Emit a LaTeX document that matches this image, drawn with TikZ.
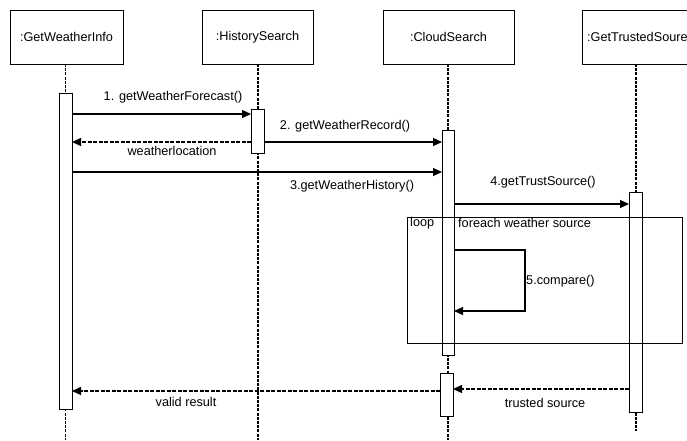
\documentclass[tikz,border=0pt]{standalone}
\usepackage{fontspec}
\setmainfont{Liberation Sans}
\usetikzlibrary{arrows.meta}
\begin{document}
\begin{tikzpicture}[x=1pt,y=-1pt,
  every node/.style={font=\fontsize{12.7}{15}\selectfont},
  head/.style={draw, line width=0.9pt, minimum height=54pt, inner sep=0pt, outer sep=0pt},
  act/.style={draw, fill=white, line width=0.9pt, inner sep=0pt, outer sep=0pt},
  lifeline/.style={line width=1.3pt, dash pattern=on 3pt off 1.2pt},
  msg/.style={line width=1.2pt, -{Triangle[length=9pt,width=8pt]}},
  reply/.style={line width=1.2pt, dash pattern=on 4pt off 1.5pt, -{Triangle[length=9pt,width=8pt]}},
  lbl/.style={inner sep=0pt},
  frame/.style={draw, line width=0.9pt}
]
\useasboundingbox (0,0) rectangle (687,440);
\clip (0,0) rectangle (687,440);

% participants
\node[head, minimum width=113pt] (gwi) at (66.5,37) {:GetWeatherInfo};
\node[head, minimum width=111pt] (hs)  at (257.5,37) {:HistorySearch};
\node[head, minimum width=131pt] (cs)  at (448.5,37) {:CloudSearch};
\node[head, minimum width=108pt] (gts) at (636,37) {};
\node[lbl, anchor=west] (gtsname) at (587,37) {:GetTrustedSoure};

% lifelines
\coordinate (gwiend) at (65.5,440);
\coordinate (hsend) at (258,440);
\coordinate (csend) at (448,440);
\coordinate (gtsend) at (636,431);
\draw[lifeline] (gwi.south -| gwiend) -- (gwiend);
\draw[lifeline] (hs.south -| hsend) -- (hsend);
\draw[lifeline] (cs.south -| csend) -- (csend);
\draw[lifeline] (gts.south -| gtsend) -- (gtsend);

% activation bars
\node[act, minimum width=13pt, minimum height=316pt] (a1) at (65.5,251) {};
\node[act, minimum width=13pt, minimum height=44pt]  (h1) at (257.5,131) {};
\node[act, minimum width=12pt, minimum height=225pt] (c1) at (448,242.5) {};
\node[act, minimum width=13pt, minimum height=43pt]  (c2) at (446.5,394.5) {};
\node[act, minimum width=13pt, minimum height=220pt] (t1) at (635.5,302) {};

% messages
\draw[msg]   (a1.east |- 0,114) -- (h1.west |- 0,114);
\draw[reply] (h1.west |- 0,142) -- (a1.east |- 0,142);
\draw[msg]   (h1.east |- 0,142) -- (c1.west |- 0,142);
\draw[msg]   (a1.east |- 0,172) -- (c1.west |- 0,172);
\draw[msg]   (c1.east |- 0,204) -- (t1.west |- 0,204);
\coordinate (turn) at (525,311);
\draw[msg]   (c1.east |- 0,250) -| (turn) -- (c1.east |- turn);
\draw[reply] (t1.west |- 0,389) -- (c2.east |- 0,389);
\draw[reply] (c2.west |- 0,391) -- (a1.east |- 0,391);

% message labels
\node[lbl] (m1) at (173,97)  {1. getWeatherForecast()};
\node[lbl] (r1) at (172,151) {weatherlocation};
\node[lbl] (m2) at (345,126) {2. getWeatherRecord()};
\node[lbl] (m3) at (352,186) {3.getWeatherHistory()};
\node[lbl] (m4) at (543,182) {4.getTrustSource()};
\node[lbl, anchor=west] (m5) at (526,281) {5.compare()};
\node[lbl] (r2) at (545,403) {trusted source};
\node[lbl] (r3) at (186,402) {valid result};

% loop fragment
\draw[frame] (407,217) rectangle (682,343);
\node[lbl, anchor=west] (looptag) at (410,223) {loop};
\node[lbl, anchor=west] (guard) at (458,223) {foreach weather source};
\end{tikzpicture}
\end{document}
